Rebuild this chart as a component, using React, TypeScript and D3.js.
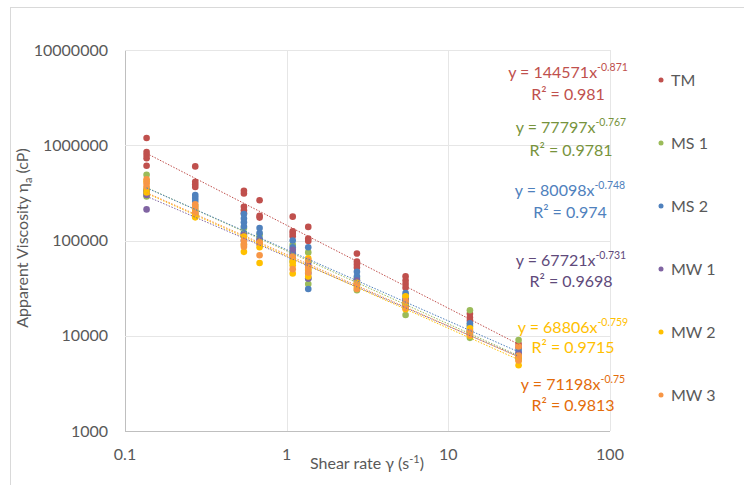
import React, { useEffect, useRef } from 'react';
import * as d3 from 'd3';

// shear rates (s^-1) measured
const shearRates = [0.136, 0.272, 0.544, 0.68, 1.09, 1.36, 2.72, 5.44, 13.6, 27.2];

// apparent viscosity readings (cP), one list of replicates per shear rate
const tmVisc = [
  [1190000, 850000, 790000, 730000, 610000],
  [600000, 413000, 390000, 364000],
  [332000, 312000, 226000, 208000, 193000],
  [265000, 182000, 174000],
  [178000, 125000, 118000, 111000],
  [139000, 105000, 99000],
  [73000, 60000, 56000, 52000],
  [42000, 38000, 35000, 32000],
  [17000, 15500, 14500],
  [8200, 7500],
];
const ms1Visc = [
  [490000, 300000, 290000],
  [230000, 210000],
  [135000, 120000, 110000],
  [115000, 100000],
  [90000, 72000, 60000],
  [75000, 60000, 48000, 35000],
  [40000, 35000, 30000],
  [26000, 20000, 16500],
  [18500, 13000, 9500],
  [9000, 6000],
];
const ms2Visc = [
  [340000, 320000],
  [300000, 280000, 260000],
  [190000, 170000, 155000, 140000, 119000],
  [135000, 120000, 105000],
  [100000, 85000, 75000, 65000],
  [85000, 60000, 40000, 31000],
  [47000, 42000, 38000],
  [28000, 24000, 22000],
  [13500, 12500, 11000],
  [7000, 6500],
];
const mw1Visc = [
  [212000, 300000, 330000],
  [190000, 180000],
  [115000, 100000],
  [100000, 92000],
  [80000, 70000],
  [55000, 45000, 40000],
  [38000, 34000],
  [24000, 21000],
  [11500, 10500],
  [6500, 5800],
];
const mw2Visc = [
  [420000, 350000, 320000],
  [200000, 185000, 175000],
  [110000, 90000, 76000],
  [95000, 85000, 58000],
  [60000, 55000, 45000],
  [65000, 50000, 42000],
  [36000, 32000],
  [26000, 22000, 19000],
  [12000, 11000, 10000],
  [6000, 5500, 4900],
];
const mw3Visc = [
  [440000, 400000, 370000],
  [240000, 220000, 195000],
  [100000, 92000, 86000],
  [95000, 70000],
  [68000, 50000],
  [62000, 52000, 46000],
  [35000, 31000],
  [23000, 19500],
  [11000, 10200],
  [7700, 6200, 5500],
];

const seriesNames = ['TM', 'MS 1', 'MS 2', 'MW 1', 'MW 2', 'MW 3'];
const fitCoef = [144571, 77797, 80098, 67721, 68806, 71198];
const fitExp = ['-0.871', '-0.767', '-0.748', '-0.731', '-0.759', '-0.75'];
const rSquared = ['0.981', '0.9781', '0.974', '0.9698', '0.9715', '0.9813'];

const xTicks = [0.1, 1, 10, 100];
const yTicks = [1000, 10000, 100000, 1000000, 10000000];

const markerColors = ['#C0504D', '#9BBB59', '#4F81BD', '#8064A2', '#FFC000', '#F79646'];
const labelColors = ['#C0504D', '#77933C', '#4F81BD', '#604A7B', '#FFC000', '#E46C0A'];
// equation label centres (line 1, line 2)
const eqLayout = [
  { x: 568, y1: 72, y2: 94 },
  { x: 571, y1: 127, y2: 150 },
  { x: 570, y1: 190, y2: 212 },
  { x: 571, y1: 260, y2: 281 },
  { x: 573, y1: 327, y2: 347 },
  { x: 573, y1: 384, y2: 405 },
];

const FONT = 'Lato, "Open Sans", sans-serif';

const App = () => {
  const ref = useRef(null);

  useEffect(() => {
    const root = d3.select(ref.current);
    root.selectAll('*').remove();

    const svg = root.append('svg')
      .attr('width', 744)
      .attr('height', 485)
      .style('position', 'absolute')
      .style('left', 0)
      .style('top', 0)
      .style('font-family', FONT);

    svg.append('rect').attr('width', 744).attr('height', 485).attr('fill', '#fff');
    svg.append('rect')
      .attr('x', 10.5).attr('y', 7.5).attr('width', 800).attr('height', 600)
      .attr('fill', 'none').attr('stroke', '#D9D9D9');

    const x = d3.scaleLog().domain([0.1, 100]).range([125, 610]);
    const y = d3.scaleLog().domain([1000, 10000000]).range([431, 50]);

    // grid
    svg.append('g').selectAll('line.v')
      .data(xTicks)
      .enter().append('line')
      .attr('x1', d => Math.round(x(d)) + 0.5).attr('x2', d => Math.round(x(d)) + 0.5)
      .attr('y1', y(10000000)).attr('y2', y(1000))
      .attr('stroke', (d, i) => i === 0 ? '#BFBFBF' : '#E6E6E6');
    svg.append('g').selectAll('line.h')
      .data(yTicks)
      .enter().append('line')
      .attr('x1', x(0.1)).attr('x2', x(100))
      .attr('y1', d => Math.round(y(d)) + 0.5).attr('y2', d => Math.round(y(d)) + 0.5)
      .attr('stroke', (d, i) => i === 0 ? '#BFBFBF' : '#E6E6E6');

    // tick labels
    svg.append('g').selectAll('text')
      .data(yTicks)
      .enter().append('text')
      .attr('x', 108).attr('y', d => y(d)).attr('dy', '0.35em')
      .attr('text-anchor', 'end')
      .attr('font-size', 16).attr('fill', '#595959')
      .text(d => d3.format('d')(d));
    svg.append('g').selectAll('text')
      .data(xTicks)
      .enter().append('text')
      .attr('x', d => x(d)).attr('y', 454).attr('dy', '0.35em')
      .attr('text-anchor', 'middle')
      .attr('font-size', 16).attr('fill', '#595959')
      .text(d => String(d));

    // axis titles
    const yt = svg.append('text')
      .attr('transform', 'translate(28,238) rotate(-90)')
      .attr('text-anchor', 'middle')
      .attr('font-size', 16).attr('fill', '#595959');
    yt.append('tspan').text('Apparent Viscosity η');
    yt.append('tspan').attr('font-size', 11).attr('dy', 4).text('a');
    yt.append('tspan').attr('dy', -4).text(' (cP)');

    const xt = svg.append('text')
      .attr('x', 367).attr('y', 469)
      .attr('text-anchor', 'middle')
      .attr('font-size', 16).attr('fill', '#595959');
    xt.append('tspan').text('Shear rate γ (s');
    xt.append('tspan').attr('font-size', 11).attr('dy', -6).text('-1');
    xt.append('tspan').attr('dy', 6).text(')');

    const allSeries = [tmVisc, ms1Visc, ms2Visc, mw1Visc, mw2Visc, mw3Visc];

    // points
    allSeries.forEach((series, si) => {
      const pts = series.flatMap((vals, ri) => vals.map(v => ({ rate: shearRates[ri], v })));
      svg.append('g').selectAll('circle')
        .data(pts)
        .enter().append('circle')
        .attr('cx', d => x(d.rate))
        .attr('cy', d => y(d.v))
        .attr('r', 3.3)
        .attr('fill', markerColors[si]);
    });

    // power-law trendlines
    const line = d3.line().x(d => x(d[0])).y(d => y(d[1]));
    allSeries.forEach((series, si) => {
      const xs = [shearRates[0], shearRates[shearRates.length - 1]];
      const pts = xs.map(r => [r, fitCoef[si] * Math.pow(r, parseFloat(fitExp[si]))]);
      svg.append('path')
        .attr('d', line(pts))
        .attr('fill', 'none')
        .attr('stroke', markerColors[si])
        .attr('stroke-width', 1)
        .attr('stroke-dasharray', '1.5 1.5');
    });

    // equations
    seriesNames.forEach((name, si) => {
      const pos = eqLayout[si];
      const t1 = svg.append('text')
        .attr('x', pos.x).attr('y', pos.y1).attr('dy', '0.35em')
        .attr('text-anchor', 'middle')
        .attr('font-size', 16).attr('fill', labelColors[si]);
      t1.append('tspan').text(`y = ${fitCoef[si]}x`);
      t1.append('tspan').attr('font-size', 10.5).attr('dy', -7).text(fitExp[si]);
      svg.append('text')
        .attr('x', pos.x).attr('y', pos.y2).attr('dy', '0.35em')
        .attr('text-anchor', 'middle')
        .attr('font-size', 16).attr('fill', labelColors[si])
        .text(`R² = ${rSquared[si]}`);
    });

    // legend
    const leg = svg.append('g').selectAll('g')
      .data(seriesNames)
      .enter().append('g')
      .attr('transform', (d, i) => `translate(661,${80 + i * 63})`);
    leg.append('circle').attr('r', 2.5).attr('fill', (d, i) => markerColors[i]);
    leg.append('text')
      .attr('x', 10).attr('dy', '0.35em')
      .attr('font-size', 16).attr('fill', '#595959')
      .text(d => d);
  }, []);

  return <div ref={ref} />;
};

export default App;
